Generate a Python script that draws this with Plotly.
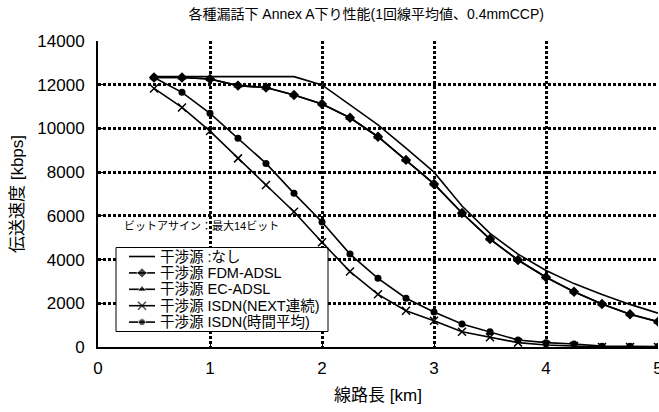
import plotly.graph_objects as go

# Line length [km]
distance_km = [0.5, 0.75, 1.0, 1.25, 1.5, 1.75, 2.0, 2.25, 2.5, 2.75,
               3.0, 3.25, 3.5, 3.75, 4.0, 4.25, 4.5, 4.75, 5.0]

# Downstream rate [kbps] per crosstalk source
rate_none = [12370, 12370, 12370, 12370, 12370, 12370, 11990, 11070, 10160, 9100,
             8000, 6450, 5200, 4250, 3500, 2900, 2400, 1950, 1550]
rate_fdm_adsl = [12330, 12330, 12260, 11960, 11870, 11530, 11120, 10490, 9620, 8560,
                 7460, 6130, 4940, 3980, 3190, 2530, 1970, 1500, 1160]
rate_ec_adsl = [12330, 12330, 12260, 11960, 11870, 11530, 11120, 10490, 9620, 8560,
                7460, 6130, 4940, 3980, 3190, 2530, 1970, 1500, 1160]
rate_isdn_next = [11830, 10960, 9880, 8630, 7410, 6190, 4790, 3450, 2410, 1660,
                  1200, 700, 450, 200, 90, 40, 0, 0, 0]
rate_isdn_avg = [12330, 11650, 10690, 9550, 8400, 7030, 5720, 4250, 3140, 2230,
                 1600, 1050, 700, 320, 200, 140, 40, 30, 20]

x_ticks = [0, 1, 2, 3, 4, 5]
y_ticks = [0, 2000, 4000, 6000, 8000, 10000, 12000, 14000]
X_RANGE = [0, 5]
Y_RANGE = [0, 14000]

FONT = "Liberation Sans, Arial, Noto Sans CJK JP, sans-serif"
LINE_W = 1.6

# Series: legend label, values, marker style (None = plain line)
series = [
    ("干渉源 :なし", rate_none, None),
    ("干渉源 FDM-ADSL", rate_fdm_adsl, dict(symbol="diamond", size=8)),
    ("干渉源 EC-ADSL", rate_ec_adsl, dict(symbol="triangle-up", size=8)),
    ("干渉源 ISDN(NEXT連続)", rate_isdn_next,
     dict(symbol="x-thin", size=8, line=dict(width=1.5, color="black"))),
    ("干渉源 ISDN(時間平均)", rate_isdn_avg, dict(symbol="circle", size=7)),
]

# Pixel frame of the plot area; the legend box is laid out in pixel units
PLOT_L, PLOT_R, PLOT_T, PLOT_B = 98, 658, 41, 347
LEG_BOX = (116, 328, 247.5, 331.5)     # left, right, top, bottom
LEG_ROW0, LEG_ROW_STEP = 256.5, 16.4
LEG_SYM_X0, LEG_SYM_X1, LEG_TEXT_X = 129, 155, 158


def px_to_x(px):
    return X_RANGE[0] + (px - PLOT_L) / (PLOT_R - PLOT_L) * (X_RANGE[1] - X_RANGE[0])


def px_to_y(py):
    return Y_RANGE[0] + (PLOT_B - py) / (PLOT_B - PLOT_T) * (Y_RANGE[1] - Y_RANGE[0])


fig = go.Figure()

for name, values, marker in series:
    if marker is None:
        fig.add_trace(go.Scatter(
            x=distance_km, y=values, name=name, mode="lines",
            line=dict(color="black", width=LINE_W), showlegend=False,
        ))
    else:
        fig.add_trace(go.Scatter(
            x=distance_km, y=values, name=name, mode="lines+markers",
            line=dict(color="black", width=LINE_W),
            marker=dict(color="black", **marker), showlegend=False,
        ))

# Hand-drawn legend in a compact box (white box hides the grid behind it)
fig.add_shape(
    type="rect", xref="x", yref="y",
    x0=px_to_x(LEG_BOX[0]), x1=px_to_x(LEG_BOX[1]),
    y0=px_to_y(LEG_BOX[2]), y1=px_to_y(LEG_BOX[3]),
    line=dict(color="black", width=1), fillcolor="white", layer="between",
)
for i, (name, _, marker) in enumerate(series):
    ry = px_to_y(LEG_ROW0 + i * LEG_ROW_STEP)
    x0, x1 = px_to_x(LEG_SYM_X0), px_to_x(LEG_SYM_X1)
    if marker is None:
        fig.add_trace(go.Scatter(
            x=[x0, x1], y=[ry, ry], mode="lines",
            line=dict(color="black", width=LINE_W),
            showlegend=False, hoverinfo="skip",
        ))
    else:
        m = dict(color="black", **marker)
        m["size"] = [0, marker["size"], 0]
        fig.add_trace(go.Scatter(
            x=[x0, (x0 + x1) / 2, x1], y=[ry, ry, ry], mode="lines+markers",
            line=dict(color="black", width=LINE_W), marker=m,
            showlegend=False, hoverinfo="skip",
        ))
    fig.add_annotation(
        x=px_to_x(LEG_TEXT_X), y=ry, xref="x", yref="y",
        xanchor="left", yanchor="middle",
        text=name, showarrow=False,
        font=dict(family=FONT, size=14.5, color="black"),
    )

fig.add_annotation(
    x=px_to_x(122), y=px_to_y(225), xref="x", yref="y",
    xanchor="left", yanchor="middle",
    text="ビットアサイン：最大14ビット", showarrow=False,
    font=dict(family=FONT, size=11, color="black"),
)

grid_style = dict(showgrid=True, gridcolor="black", gridwidth=2.5, griddash="3px,2px",
                  showline=True, linecolor="black", linewidth=2, mirror=False,
                  ticks="inside", ticklen=5, tickcolor="black", zeroline=False,
                  automargin=False, ticklabeloverflow="allow",
                  tickfont=dict(family=FONT, size=17))

fig.update_layout(
    width=659, height=412,
    margin=dict(l=PLOT_L, r=659 - PLOT_R, t=PLOT_T, b=412 - PLOT_B),
    paper_bgcolor="white", plot_bgcolor="white",
    font=dict(family=FONT, color="black", size=13),
    title=dict(
        text="各種漏話下 Annex A下り性能(1回線平均値、0.4mmCCP)",
        x=0.479, xref="paper", xanchor="center",
        y=0.965, yref="container", yanchor="middle",
        font=dict(family=FONT, size=14, color="black"),
    ),
    showlegend=False,
    xaxis=dict(
        range=X_RANGE, tickvals=x_ticks, ticktext=[str(v) for v in x_ticks],
        ticklabelstandoff=5,
        title=dict(text="線路長 [km]", font=dict(family=FONT, size=17), standoff=12),
        **grid_style,
    ),
    yaxis=dict(
        range=Y_RANGE, tickvals=y_ticks, ticktext=[str(v) for v in y_ticks],
        ticklabelstandoff=8,
        title=dict(text="伝送速度 [kbps]", font=dict(family=FONT, size=17), standoff=9),
        **grid_style,
    ),
)

fig.write_html("out.html")
